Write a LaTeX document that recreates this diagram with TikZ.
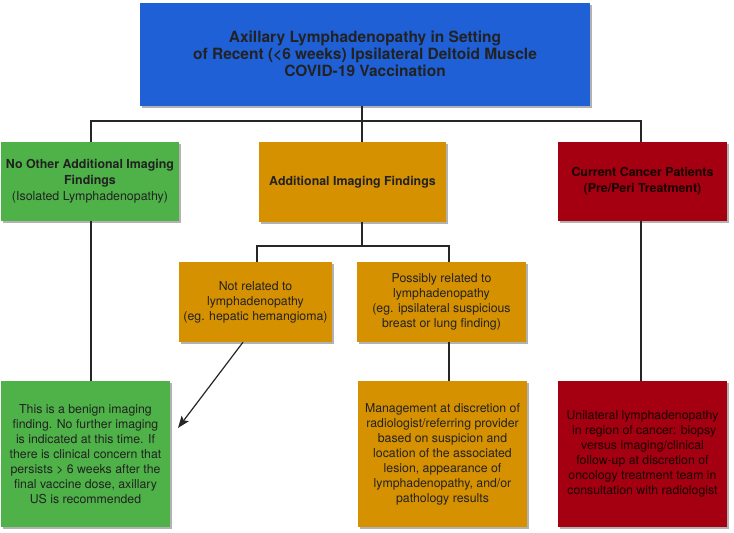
\documentclass[tikz,border=0pt]{standalone}
\usepackage{fontspec}
\setmainfont{TeX Gyre Heros}
\usetikzlibrary{shadows,arrows.meta}

\definecolor{topblue}{RGB}{31,96,214}
\definecolor{boxgreen}{RGB}{78,178,72}
\definecolor{boxorange}{RGB}{214,145,0}
\definecolor{boxred}{RGB}{164,0,17}
\definecolor{inktext}{RGB}{34,34,34}

\tikzset{
    box/.style={rectangle, inner sep=2pt, align=center, text=inktext,
                drop shadow={shadow xshift=2pt, shadow yshift=-2pt, fill=black, opacity=0.3}},
    headbox/.style={box, fill=topblue, minimum width=450pt, minimum height=103pt,
                    font=\fontsize{15.5}{17}\selectfont\bfseries},
    greenbox/.style={box, fill=boxgreen},
    orangebox/.style={box, fill=boxorange},
    redbox/.style={box, fill=boxred, text=black!90!red},
    midfont/.style={font=\fontsize{12.4}{16}\selectfont},
    smallfont/.style={font=\fontsize{12.3}{15}\selectfont},
    link/.style={draw=black!85, line width=1.2pt}
}

\begin{document}
\begin{tikzpicture}[x=1pt, y=-1pt]
    \useasboundingbox (0,0) rectangle (734,533);

    % top level
    \node[headbox] (vacc) at (365,54)
        {Axillary Lymphadenopathy in Setting\\
         of Recent (<6 weeks) Ipsilateral Deltoid Muscle\\
         COVID-19 Vaccination};

    % second level
    \node[greenbox, midfont, minimum width=178pt, minimum height=79pt] (noother) at (90,181.5)
        {\textbf{No Other Additional Imaging}\\
         \textbf{Findings}\\
         (Isolated Lymphadenopathy)};
    \node[orangebox, midfont, minimum width=187pt, minimum height=80pt] (addl) at (352.5,182)
        {\textbf{Additional Imaging Findings}};
    \node[redbox, midfont, minimum width=169pt, minimum height=79pt] (cancer) at (642.5,181.5)
        {\textbf{Current Cancer Patients}\\
         \textbf{(Pre/Peri Treatment)}};

    % third level
    \node[orangebox, smallfont, minimum width=153pt, minimum height=80pt] (notrel) at (255.5,302)
        {Not related to\\
         lymphadenopathy\\
         (eg. hepatic hemangioma)};
    \node[orangebox, smallfont, minimum width=169pt, minimum height=80pt] (possrel) at (441.5,302)
        {Possibly related to\\
         lymphadenopathy\\
         (eg. ipsilateral suspicious\\
         breast or lung finding)};

    % bottom level
    \node[greenbox, smallfont, minimum width=169pt, minimum height=146pt] (benign) at (85.5,454)
        {This is a benign imaging\\
         finding. No further imaging\\
         is indicated at this time. If\\
         there is clinical concern that\\
         persists > 6 weeks after the\\
         final vaccine dose, axillary\\
         US is recommended};
    \node[orangebox, smallfont, minimum width=169pt, minimum height=146pt] (manage) at (442.5,454)
        {Management at discretion of\\
         radiologist/referring provider\\
         based on suspicion and\\
         location of the associated\\
         lesion, appearance of\\
         lymphadenopathy, and/or\\
         pathology results};
    \node[redbox, smallfont, minimum width=169pt, minimum height=146pt] (unilat) at (642.5,454)
        {Unilateral lymphadenopathy\\
         \ in region of cancer: biopsy\\
         versus imaging/clinical\\
         follow-up at discretion of\\
         oncology treatment team in\\
         consultation with radiologist};

    % connectors
    \coordinate (bar) at (362,121);
    \coordinate (subbar) at (362,246);
    \coordinate (arrowend) at (178,428);
    \draw[link] (vacc.south -| bar) -- (bar);
    \draw[link] (noother.north -| 91,0) |- (bar) -| (cancer.north -| 641,0);
    \draw[link] (bar) -- (bar |- addl.north);
    \draw[link] (addl.south -| subbar) -- (subbar);
    \draw[link] (notrel.north -| 257,0) |- (subbar) -| (possrel.north -| 449,0);
    \draw[link] (noother.south -| 91,0) -- (benign.north -| 91,0);
    \draw[link] (possrel.south -| 449,0) -- (manage.north -| 449,0);
    \draw[link] (cancer.south -| 641,0) -- (unilat.north -| 641,0);
    \draw[link, -{Stealth[length=12pt, width=9pt, inset=2.5pt]}] (notrel.south -| 243,0) -- (arrowend);
\end{tikzpicture}
\end{document}
